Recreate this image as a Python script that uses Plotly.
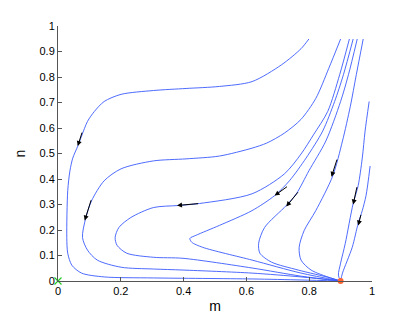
import plotly.graph_objects as go

# trajectories (m, n)
c1_m = [0.799, 0.774, 0.712, 0.618, 0.514, 0.408, 0.304, 0.201, 0.147, 0.116, 0.094, 0.075, 0.063, 0.047, 0.038, 0.031, 0.028, 0.031, 0.044, 0.075, 0.147, 0.304, 0.618, 0.774, 0.9]
c1_n = [0.949, 0.911, 0.848, 0.782, 0.763, 0.755, 0.747, 0.732, 0.704, 0.665, 0.626, 0.568, 0.529, 0.482, 0.432, 0.354, 0.171, 0.109, 0.062, 0.031, 0.016, 0.012, 0.008, 0.004, 0.0]

c2_m = [0.900, 0.862, 0.821, 0.774, 0.721, 0.665, 0.618, 0.514, 0.408, 0.304, 0.201, 0.147, 0.107, 0.088, 0.078, 0.094, 0.125, 0.201, 0.304, 0.398, 0.618, 0.774, 0.9]
c2_n = [0.949, 0.833, 0.716, 0.634, 0.580, 0.541, 0.521, 0.490, 0.479, 0.471, 0.440, 0.393, 0.315, 0.245, 0.171, 0.121, 0.082, 0.054, 0.047, 0.043, 0.031, 0.016, 0.0]

c3_m = [0.928, 0.897, 0.859, 0.815, 0.774, 0.721, 0.618, 0.451, 0.382, 0.304, 0.232, 0.194, 0.182, 0.188, 0.219, 0.304, 0.398, 0.618, 0.774, 0.9]
c3_n = [0.949, 0.809, 0.665, 0.576, 0.498, 0.420, 0.342, 0.304, 0.296, 0.288, 0.249, 0.210, 0.171, 0.140, 0.109, 0.093, 0.089, 0.051, 0.019, 0.0]

c4_m = [0.940, 0.909, 0.881, 0.843, 0.790, 0.737, 0.690, 0.618, 0.514, 0.439, 0.420, 0.426, 0.461, 0.618, 0.774, 0.9]
c4_n = [0.949, 0.809, 0.704, 0.588, 0.482, 0.393, 0.335, 0.276, 0.218, 0.179, 0.167, 0.152, 0.132, 0.082, 0.031, 0.0]

c5_m = [0.953, 0.925, 0.900, 0.853, 0.799, 0.759, 0.727, 0.658, 0.639, 0.643, 0.680, 0.765, 0.868, 0.9]
c5_n = [0.949, 0.809, 0.704, 0.549, 0.432, 0.342, 0.296, 0.210, 0.148, 0.109, 0.074, 0.043, 0.012, 0.0]

c6_m = [0.972, 0.950, 0.931, 0.906, 0.875, 0.821, 0.784, 0.768, 0.774, 0.806, 0.868, 0.9]
c6_n = [0.949, 0.809, 0.685, 0.549, 0.412, 0.276, 0.198, 0.132, 0.082, 0.043, 0.012, 0.0]

c7_m = [0.991, 0.978, 0.969, 0.956, 0.940, 0.915, 0.900, 0.893, 0.9]
c7_n = [0.704, 0.588, 0.482, 0.374, 0.304, 0.148, 0.070, 0.023, 0.0]

c8_m = [0.994, 0.981, 0.969, 0.956, 0.937, 0.906, 0.9]
c8_n = [0.451, 0.335, 0.276, 0.226, 0.132, 0.031, 0.0]

curves = [(c1_m, c1_n), (c2_m, c2_n), (c3_m, c3_n), (c4_m, c4_n),
          (c5_m, c5_n), (c6_m, c6_n), (c7_m, c7_n), (c8_m, c8_n)]

# direction arrows: tail -> tip
arrow_tail_m = [0.078, 0.107, 0.451, 0.734, 0.768, 0.890, 0.953, 0.966]
arrow_tail_n = [0.588, 0.323, 0.304, 0.374, 0.354, 0.482, 0.374, 0.265]
arrow_tip_m = [0.063, 0.085, 0.379, 0.690, 0.727, 0.871, 0.940, 0.956]
arrow_tip_n = [0.529, 0.237, 0.296, 0.335, 0.292, 0.409, 0.300, 0.218]

# equilibria
eq0_m, eq0_n = [0.0], [0.0]
eq1_m, eq1_n = [0.9], [0.0]

x_ticks = [0, 0.2, 0.4, 0.6, 0.8, 1]
x_tick_labels = ["0", "0.2", "0.4", "0.6", "0.8", "1"]
y_ticks = [0, 0.1, 0.2, 0.3, 0.4, 0.5, 0.6, 0.7, 0.8, 0.9, 1]
y_tick_labels = ["0", "0.1", "0.2", "0.3", "0.4", "0.5", "0.6", "0.7", "0.8", "0.9", "1"]

FONT = "Liberation Sans, Arial, sans-serif"

fig = go.Figure()
for cm, cn in curves:
    fig.add_trace(go.Scatter(x=cm, y=cn, mode="lines",
                             line=dict(color="#3a5aff", width=0.9, shape="spline", smoothing=0.8),
                             hoverinfo="skip", showlegend=False))

fig.add_trace(go.Scatter(x=eq0_m, y=eq0_n, mode="markers",
                         marker=dict(symbol="x-thin", size=7, line=dict(color="#22cc22", width=1.2)),
                         cliponaxis=False, showlegend=False))
fig.add_trace(go.Scatter(x=eq1_m, y=eq1_n, mode="markers",
                         marker=dict(symbol="circle", size=6, color="#ff6633"),
                         cliponaxis=False, showlegend=False))

for tm, tn, hm, hn in zip(arrow_tail_m, arrow_tail_n, arrow_tip_m, arrow_tip_n):
    fig.add_annotation(x=hm, y=hn, ax=tm, ay=tn, xref="x", yref="y", axref="x", ayref="y",
                       text="", showarrow=True, arrowhead=2, arrowsize=1, arrowwidth=1,
                       arrowcolor="black", standoff=0, startstandoff=0)

axis_common = dict(showgrid=False, zeroline=False, showline=True, linecolor="#555555",
                   linewidth=1, ticks="inside", ticklen=4, tickcolor="#555555",
                   tickfont=dict(family=FONT, size=11, color="black"),
                   mirror=False)

# page body has an 8px margin, so the plot area is shifted accordingly
fig.update_layout(
    width=411, height=317,
    margin=dict(l=45, r=47, t=16, b=44),
    plot_bgcolor="white", paper_bgcolor="white",
    xaxis=dict(range=[0, 1], tickvals=x_ticks, ticktext=x_tick_labels,
               title=dict(text="m", font=dict(family=FONT, size=14, color="black"), standoff=4),
               **axis_common),
    yaxis=dict(range=[0, 1], tickvals=y_ticks, ticktext=y_tick_labels,
               title=dict(text="n", font=dict(family=FONT, size=14, color="black"), standoff=10),
               **axis_common),
)

fig.write_html("out.html")
